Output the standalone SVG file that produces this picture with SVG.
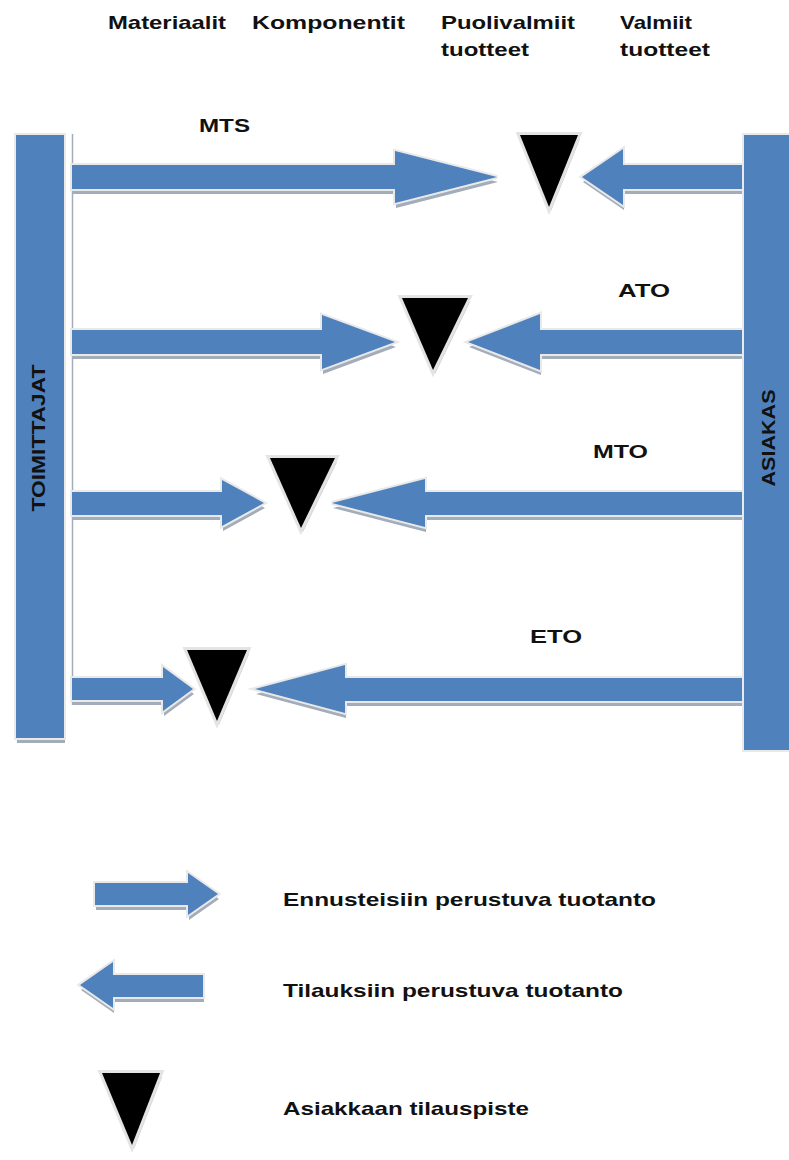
<svg xmlns="http://www.w3.org/2000/svg" width="789" height="1160" viewBox="0 0 789 1160">
<defs>
<style>
.t{font-family:"Liberation Sans",Arial,sans-serif;font-weight:bold;font-size:19px;fill:#111;}
.blue{fill:#4F81BD;stroke:#e9e9e9;stroke-width:4;paint-order:stroke;stroke-linejoin:miter;}
.sh{fill:#a3acb9;}
.tri{fill:#000;stroke:#e4e4e4;stroke-width:6;paint-order:stroke;stroke-linejoin:miter;stroke-miterlimit:10;}
.trish{fill:#c9c9c9;}
</style>
</defs>
<rect width="789" height="1160" fill="#fff"/>

<g id="headers">
<text class="t" x="108" y="29" textLength="118" lengthAdjust="spacingAndGlyphs">Materiaalit</text>
<text class="t" x="252" y="29" textLength="153" lengthAdjust="spacingAndGlyphs">Komponentit</text>
<text class="t" x="441" y="29" textLength="134" lengthAdjust="spacingAndGlyphs">Puolivalmiit</text>
<text class="t" x="441" y="56" textLength="88" lengthAdjust="spacingAndGlyphs">tuotteet</text>
<text class="t" x="620" y="29" textLength="72" lengthAdjust="spacingAndGlyphs">Valmiit</text>
<text class="t" x="620" y="56" textLength="90" lengthAdjust="spacingAndGlyphs">tuotteet</text>
</g>

<g id="connectors">
<line x1="72.5" y1="134" x2="72.5" y2="705" stroke="#a3acb9" stroke-width="1.5"/>
<!-- row 1 -->
<polygon class="sh" transform="translate(1,5)" points="72,165 395,165 395,151 497,177 395,203 395,189 72,189"/>
<polygon class="blue" points="72,165 395,165 395,151 497,177 395,203 395,189 72,189"/>
<polygon class="sh" transform="translate(1,5)" points="582,177 623,149 623,165 742,165 742,189 623,189 623,205"/>
<polygon class="blue" points="582,177 623,149 623,165 742,165 742,189 623,189 623,205"/>
<!-- row 2 -->
<polygon class="sh" transform="translate(1,5)" points="72,330 322,330 322,315 395,342 322,369 322,354 72,354"/>
<polygon class="blue" points="72,330 322,330 322,315 395,342 322,369 322,354 72,354"/>
<polygon class="sh" transform="translate(1,5)" points="468,342 540,314 540,330 742,330 742,354 540,354 540,370"/>
<polygon class="blue" points="468,342 540,314 540,330 742,330 742,354 540,354 540,370"/>
<!-- row 3 -->
<polygon class="sh" transform="translate(1,5)" points="72,492 222,492 222,480 264,503 222,526 222,515 72,515"/>
<polygon class="blue" points="72,492 222,492 222,480 264,503 222,526 222,515 72,515"/>
<polygon class="sh" transform="translate(1,5)" points="332,503 425,479 425,492 742,492 742,515 425,515 425,527"/>
<polygon class="blue" points="332,503 425,479 425,492 742,492 742,515 425,515 425,527"/>
<!-- row 4 -->
<polygon class="sh" transform="translate(1,5)" points="72,678 163,678 163,667 193,689 163,711 163,700 72,700"/>
<polygon class="blue" points="72,678 163,678 163,667 193,689 163,711 163,700 72,700"/>
<polygon class="sh" transform="translate(1,5)" points="255,689 345,665 345,678 742,678 742,701 345,701 345,713"/>
<polygon class="blue" points="255,689 345,665 345,678 742,678 742,701 345,701 345,713"/>
</g>

<g id="toimittajat">
<rect class="sh" x="17" y="140" width="48" height="603"/>
<rect class="blue" x="16" y="135" width="48" height="603"/>
<text class="t" transform="translate(45,438) rotate(-90)" text-anchor="middle" textLength="147" lengthAdjust="spacingAndGlyphs">TOIMITTAJAT</text>
</g>

<g id="asiakas">
<rect class="blue" x="744" y="135" width="60" height="615"/>
<text class="t" transform="translate(775,438) rotate(-90)" text-anchor="middle" textLength="97" lengthAdjust="spacingAndGlyphs">ASIAKAS</text>
</g>

<g id="mts">
<polygon class="trish" transform="translate(2,4)" points="520,135 578,135 549,207"/>
<polygon class="tri" points="520,135 578,135 549,207"/>
<text class="t" x="199" y="132" textLength="51" lengthAdjust="spacingAndGlyphs">MTS</text>
</g>
<g id="ato">
<polygon class="trish" transform="translate(2,4)" points="402,298 468,298 433,370"/>
<polygon class="tri" points="402,298 468,298 433,370"/>
<text class="t" x="618" y="297" textLength="52" lengthAdjust="spacingAndGlyphs">ATO</text>
</g>
<g id="mto">
<polygon class="trish" transform="translate(2,4)" points="270,458 335,458 301,528"/>
<polygon class="tri" points="270,458 335,458 301,528"/>
<text class="t" x="593" y="458" textLength="55" lengthAdjust="spacingAndGlyphs">MTO</text>
</g>
<g id="eto">
<polygon class="trish" transform="translate(2,4)" points="187,650 247,650 217,721"/>
<polygon class="tri" points="187,650 247,650 217,721"/>
<text class="t" x="530" y="643" textLength="52" lengthAdjust="spacingAndGlyphs">ETO</text>
</g>

<g id="legend-forecast">
<polygon class="sh" transform="translate(1,5)" points="95,883 188,883 188,873 218,894 188,915 188,905 95,905"/>
<polygon class="blue" points="95,883 188,883 188,873 218,894 188,915 188,905 95,905"/>
<text class="t" x="283" y="906" textLength="373" lengthAdjust="spacingAndGlyphs">Ennusteisiin perustuva tuotanto</text>
</g>
<g id="legend-order">
<polygon class="sh" transform="translate(1,5)" points="80,985 113,962 113,975 203,975 203,997 113,997 113,1008"/>
<polygon class="blue" points="80,985 113,962 113,975 203,975 203,997 113,997 113,1008"/>
<text class="t" x="283" y="997" textLength="340" lengthAdjust="spacingAndGlyphs">Tilauksiin perustuva tuotanto</text>
</g>
<g id="legend-point">
<polygon class="trish" transform="translate(2,4)" points="102,1073 160,1073 132,1145"/>
<polygon class="tri" points="102,1073 160,1073 132,1145"/>
<text class="t" x="283" y="1115" textLength="246" lengthAdjust="spacingAndGlyphs">Asiakkaan tilauspiste</text>
</g>
</svg>
